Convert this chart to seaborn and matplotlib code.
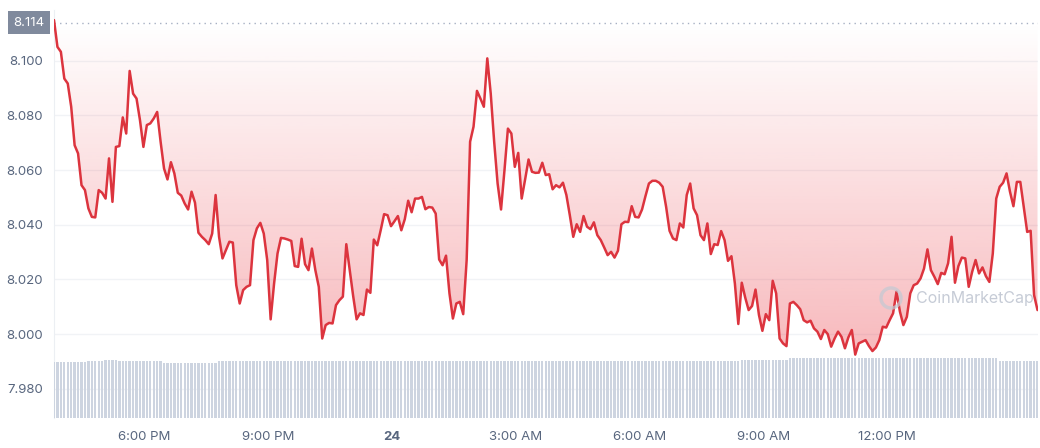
import numpy as np
import pandas as pd
import matplotlib
matplotlib.use('Agg')
import matplotlib.pyplot as plt
import matplotlib.dates as mdates
from matplotlib.patches import Circle
from matplotlib.transforms import IdentityTransform
import seaborn as sns

# Price every 5 minutes
prices = [
    8.1149, 8.1051, 8.1033, 8.0935, 8.0917, 8.0832, 8.0691, 8.0661, 8.0545, 8.0527,
    8.0460, 8.0429, 8.0427, 8.0527, 8.0517, 8.0496, 8.0643, 8.0484, 8.0685, 8.0688,
    8.0793, 8.0734, 8.0963, 8.0880, 8.0862, 8.0783, 8.0685, 8.0765, 8.0771, 8.0789,
    8.0813, 8.0704, 8.0606, 8.0566, 8.0629, 8.0588, 8.0517, 8.0507, 8.0478, 8.0456,
    8.0521, 8.0481, 8.0371, 8.0356, 8.0344, 8.0329, 8.0368,
    8.0509, 8.0356, 8.0277, 8.0307, 8.0338, 8.0335, 8.0179, 8.0112, 8.0161, 8.0173,
    8.0179, 8.0344, 8.0387, 8.0407, 8.0368, 8.0271, 8.0054, 8.0185, 8.0295, 8.0352,
    8.0350, 8.0346, 8.0341, 8.0249, 8.0246, 8.0349, 8.0256, 8.0234, 8.0313, 8.0234,
    8.0173, 7.9984, 8.0033, 8.0041, 8.0039, 8.0106, 8.0124, 8.0137, 8.0329, 8.0234,
    8.0139, 8.0054, 8.0076, 8.0070, 8.0163, 8.0151, 8.0346,
    8.0325, 8.0380, 8.0439, 8.0435, 8.0395, 8.0413, 8.0432, 8.0380, 8.0420, 8.0488,
    8.0446, 8.0496, 8.0496, 8.0502, 8.0457, 8.0465, 8.0463, 8.0441, 8.0273, 8.0252,
    8.0287, 8.0149, 8.0057, 8.0112, 8.0118, 8.0073, 8.0271, 8.0704, 8.0759, 8.0890,
    8.0862, 8.0832, 8.1009, 8.0880, 8.0704, 8.0551, 8.0456, 8.0600, 8.0752, 8.0734,
    8.0612, 8.0663, 8.0496, 8.0566, 8.0639, 8.0594, 8.0590,
    8.0591, 8.0627, 8.0582, 8.0585, 8.0530, 8.0545, 8.0537, 8.0554, 8.0509, 8.0435,
    8.0356, 8.0402, 8.0374, 8.0432, 8.0393, 8.0384, 8.0409, 8.0362, 8.0344, 8.0317,
    8.0289, 8.0301, 8.0280, 8.0305, 8.0402, 8.0411, 8.0410, 8.0468, 8.0429, 8.0427,
    8.0456, 8.0505, 8.0551, 8.0561, 8.0561, 8.0554, 8.0539, 8.0466, 8.0378, 8.0350,
    8.0344, 8.0405, 8.0390, 8.0509, 8.0551, 8.0460,
    8.0435, 8.0362, 8.0344, 8.0405, 8.0293, 8.0329, 8.0326, 8.0377, 8.0344, 8.0268,
    8.0285, 8.0185, 8.0037, 8.0188, 8.0134, 8.0088, 8.0103, 8.0163, 8.0070, 8.0012,
    8.0073, 8.0051, 8.0195, 8.0149, 7.9984, 7.9966, 7.9956, 8.0112, 8.0118, 8.0106,
    8.0091, 8.0051, 8.0043, 8.0049, 8.0021, 8.0009, 7.9982, 8.0015, 8.0000, 7.9954,
    7.9984, 8.0009, 7.9990, 7.9948, 7.9988, 8.0015,
    7.9925, 7.9966, 7.9972, 7.9978, 7.9956, 7.9938, 7.9951, 7.9978, 8.0027, 8.0024,
    8.0051, 8.0076, 8.0155, 8.0082, 8.0033, 8.0063, 8.0149, 8.0179, 8.0185, 8.0204,
    8.0240, 8.0310, 8.0234, 8.0210, 8.0183, 8.0224, 8.0219, 8.0259, 8.0356, 8.0188,
    8.0249, 8.0280, 8.0277, 8.0173, 8.0228, 8.0271, 8.0222, 8.0244, 8.0212, 8.0191,
    8.0295, 8.0496, 8.0539, 8.0554, 8.0588, 8.0521, 8.0468, 8.0557, 8.0557, 8.0466,
    8.0374, 8.0378, 8.0143, 8.0088,
]
open_price = 8.114

# volume plateaus (value, number of bars)
vol_levels = [10.92, 11.18, 11.37, 11.08, 10.78, 11.08, 11.27, 11.08, 11.27, 11.47, 11.86, 11.27]
vol_counts = [10, 5, 4, 13, 16, 23, 47, 9, 73, 14, 61, 12]
volume = np.repeat(vol_levels, vol_counts)

yticks = [7.98, 8.00, 8.02, 8.04, 8.06, 8.08, 8.10]
xtick_times = ['2024-01-23 18:00', '2024-01-23 21:00', '2024-01-24 00:00', '2024-01-24 03:00',
               '2024-01-24 06:00', '2024-01-24 09:00', '2024-01-24 12:00']
xtick_labels = ['6:00 PM', '9:00 PM', '24', '3:00 AM', '6:00 AM', '9:00 AM', '12:00 PM']

times = pd.date_range('2024-01-23 15:49', periods=len(prices), freq='5min')
df = pd.DataFrame({'time': times, 'price': prices, 'volume': volume[:len(prices)]})

sns.set_style('white')
plt.rcParams['font.family'] = ['Inter', 'DejaVu Sans']

red = '#dc343e'
grey = '#58667e'

fig = plt.figure(figsize=(10.4, 4.48), dpi=100)
ax = fig.add_axes([54 / 1040, 30 / 448, 983.5 / 1040, 408 / 448])

# gradient fill between the line and the open price
fill = ax.fill_between(df['time'], df['price'], open_price, color='none', lw=0)
x0, x1 = mdates.date2num(df['time'].iloc[0]), mdates.date2num(df['time'].iloc[-1])
grad = np.zeros((256, 1, 4))
grad[..., :3] = matplotlib.colors.to_rgb('#ea3943')
grad[:, 0, 3] = np.linspace(0.36, 0.0, 256)
im = ax.imshow(grad, extent=[x0, x1, 7.99, open_price], aspect='auto', origin='lower', zorder=1)
im.set_clip_path(fill.get_paths()[0], transform=ax.transData)

sns.lineplot(data=df, x='time', y='price', ax=ax, color=red, lw=1.8, zorder=3)
ax.axhline(open_price, ls=(0, (1, 3)), color='#a6b0c3', lw=1, zorder=2)

ax.set_xlim(x0, x1)
ax.set_ylim(7.9693, 8.1186)
ax.set_xlabel('')
ax.set_ylabel('')

ax.set_yticks(yticks)
ax.set_yticklabels([f'{v:.3f}' for v in yticks])
ax.tick_params(axis='y', length=0, pad=8, labelcolor=grey, labelsize=9.5)
ax.set_xticks([mdates.date2num(pd.Timestamp(t)) for t in xtick_times])
ax.set_xticklabels(xtick_labels)
ax.tick_params(axis='x', length=3, width=1, color='#a6b0c3', pad=6, labelcolor=grey, labelsize=9.5)
for lab in ax.get_xticklabels():
    if lab.get_text() == '24':
        lab.set_fontweight('bold')

ax.yaxis.grid(True, color='#f1f3f6', lw=1)
ax.set_axisbelow(True)
for s in ['top', 'right', 'bottom']:
    ax.spines[s].set_visible(False)
ax.spines['left'].set_color('#eceff3')

# open price tag
ax.text(-0.0254, open_price, f'{open_price:.3f}', transform=ax.get_yaxis_transform(),
        ha='center', va='center', color='white', fontsize=9.5,
        bbox=dict(boxstyle='square,pad=0.4', fc='#808a9d', ec='none'))

# volume bars
ax2 = ax.twinx()
ax2.bar(mdates.date2num(df['time']), df['volume'], width=3.4 / 1440, color='#cdd4e0', lw=0)
ax2.set_ylim(0, 80)
ax2.set_yticks([])
for s in ax2.spines.values():
    s.set_visible(False)
ax2.set_xlim(x0, x1)

# watermark
fig.text(1034 / 1040, 1 - 298 / 448, 'CoinMarketCap', fontsize=11.5, color='#b8bfcc',
         alpha=0.8, va='center', ha='right')
fig.add_artist(Circle((891, 448 - 298), 10, transform=IdentityTransform(), fill=False,
                      ec='#c3c9d3', lw=2.5, alpha=0.7))

fig.savefig('out.png', dpi=100)
